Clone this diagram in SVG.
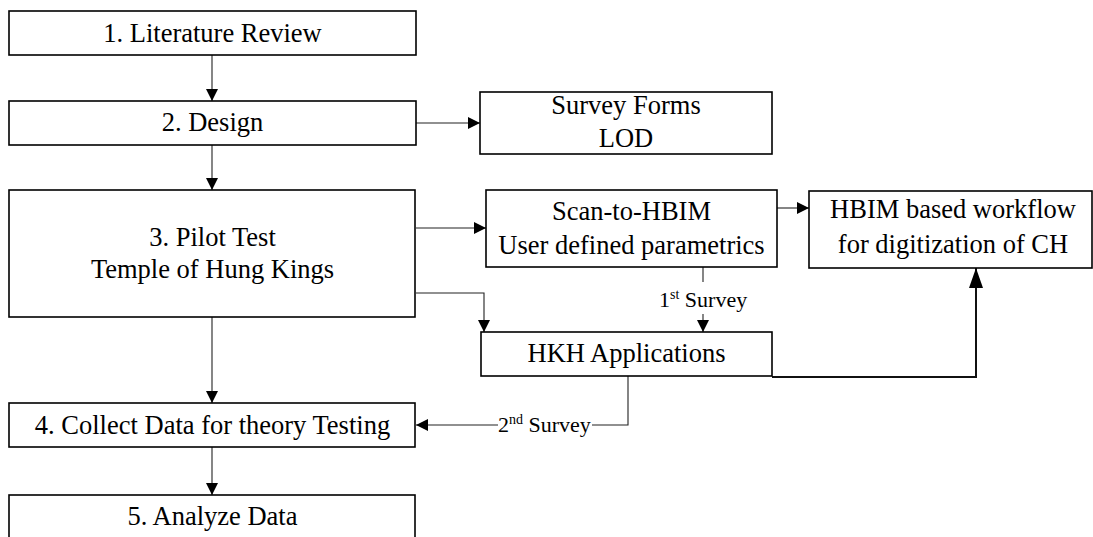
<svg xmlns="http://www.w3.org/2000/svg" width="1093" height="537" viewBox="0 0 1093 537">
  <defs>
    <style>
      .box { fill: #fff; stroke: #000; stroke-width: 1.6; }
      .t { font-size: 26.5px; fill: #000; text-anchor: middle; }
      .lbl { font-size: 22px; fill: #000; }
      .sup { font-size: 14px; }
      .c { fill: none; stroke: #222; stroke-width: 1.1; }
      .ct { fill: none; stroke: #111; stroke-width: 2; }
    </style>
    <marker id="ah" markerUnits="userSpaceOnUse" markerWidth="12" markerHeight="12" refX="12" refY="6" orient="auto">
      <path d="M0,0 L12,6 L0,12 z" fill="#000"/>
    </marker>
    <marker id="ahb" markerUnits="userSpaceOnUse" markerWidth="20" markerHeight="14" refX="20" refY="7" orient="auto">
      <path d="M0,0 L20,7 L0,14 z" fill="#000"/>
    </marker>
  </defs>
  <rect width="1093" height="537" fill="#fff"/>
  <g font-family="'Liberation Serif', serif">
  <g id="connectors">
    <path class="c" d="M212,55 V101" marker-end="url(#ah)"/>
    <path class="c" d="M212,145 V190" marker-end="url(#ah)"/>
    <path class="c" d="M212,317 V403" marker-end="url(#ah)"/>
    <path class="c" d="M212,447 V495" marker-end="url(#ah)"/>
    <path class="c" d="M416,123 H480" marker-end="url(#ah)"/>
    <path class="c" d="M416,228 H486" marker-end="url(#ah)"/>
    <path class="c" d="M416,293 H484 V332" marker-end="url(#ah)"/>
    <path class="c" d="M777,208 H809" marker-end="url(#ah)"/>
    <path class="c" d="M703,267 V282"/>
    <path class="c" d="M703,314 V332" marker-end="url(#ah)"/>
    <text class="lbl" x="659" y="307">1<tspan class="sup" dy="-8">st</tspan><tspan dy="8"> Survey</tspan></text>
    <path class="ct" d="M772,377 H976 V268" marker-end="url(#ahb)"/>
    <path class="c" d="M628,376 V425 H592"/>
    <path class="c" d="M498,425 H416" marker-end="url(#ah)"/>
    <text class="lbl" x="498" y="432">2<tspan class="sup" dy="-8">nd</tspan><tspan dy="8"> Survey</tspan></text>
  </g>

  <g id="n1">
    <rect class="box" x="9" y="11" width="407" height="44"/>
    <text class="t" x="212.5" y="42">1. Literature Review</text>
  </g>
  <g id="n2">
    <rect class="box" x="9" y="101" width="407" height="44"/>
    <text class="t" x="212.5" y="131">2. Design</text>
  </g>
  <g id="n_survey">
    <rect class="box" x="480" y="92" width="292" height="62"/>
    <text class="t" x="626" y="114">Survey Forms</text>
    <text class="t" x="626" y="147">LOD</text>
  </g>
  <g id="n3">
    <rect class="box" x="9" y="190" width="406" height="127"/>
    <text class="t" x="212.5" y="246">3. Pilot Test</text>
    <text class="t" x="212.5" y="278">Temple of Hung Kings</text>
  </g>
  <g id="n_scan">
    <rect class="box" x="486" y="190" width="291" height="77"/>
    <text class="t" x="631.5" y="220">Scan-to-HBIM</text>
    <text class="t" x="631.5" y="254">User defined parametrics</text>
  </g>
  <g id="n_hbim">
    <rect class="box" x="809" y="191" width="283" height="77"/>
    <text class="t" x="953" y="218">HBIM based workflow</text>
    <text class="t" x="953" y="253">for digitization of CH</text>
  </g>
  <g id="n_hkh">
    <rect class="box" x="481" y="332" width="291" height="44"/>
    <text class="t" x="626.5" y="362">HKH Applications</text>
  </g>
  <g id="n4">
    <rect class="box" x="9" y="403" width="406" height="44"/>
    <text class="t" x="212.5" y="434">4. Collect Data for theory Testing</text>
  </g>
  <g id="n5">
    <rect class="box" x="9" y="495" width="406" height="60"/>
    <text class="t" x="212.5" y="525">5. Analyze Data</text>
  </g>
  </g>
</svg>
